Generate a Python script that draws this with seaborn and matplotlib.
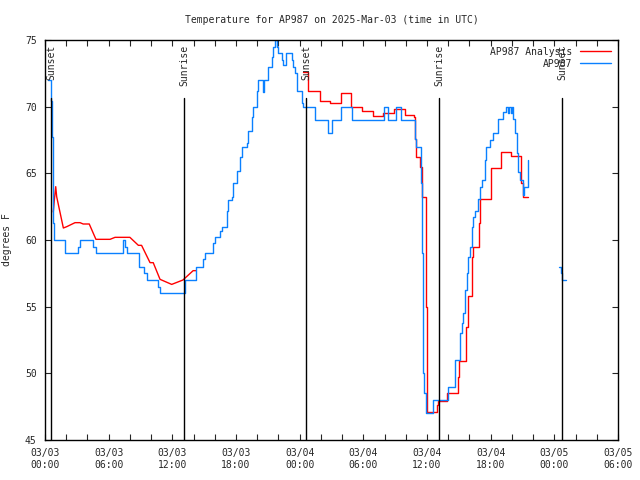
import numpy as np
import pandas as pd
import matplotlib
matplotlib.use("Agg")
import matplotlib.pyplot as plt
import matplotlib.dates as mdates
import seaborn as sns

# hours after 2025-03-03 00:00 UTC
blue_hours = [0.31, 0.54, 0.63, 0.78, 0.85, 1.89, 3.1, 3.3, 4.55, 4.8, 7.35, 7.54, 7.73,
              8.86, 9.33, 9.6, 10.65, 10.84, 13.2, 14.23, 14.9, 15.1, 15.83, 16.0, 16.5,
              16.7, 17.15, 17.25, 17.6, 17.7, 18.1, 18.4, 18.6, 19.04, 19.13, 19.5, 19.6,
              20.0, 20.1, 20.5, 20.6, 21.0, 21.4, 21.5, 21.7, 21.9, 22.0, 22.3, 22.4, 22.7,
              23.3, 23.4, 23.6, 23.75, 24.2, 24.3, 25.45, 26.7, 27.05, 27.9, 28.9, 31.95,
              32.3, 33.1, 33.55, 34.9, 35.0, 35.4, 35.45, 35.5, 35.6, 35.7, 35.9, 36.6,
              38.0, 38.6, 39.1, 39.3, 39.4, 39.6, 39.75, 39.9, 40.05, 40.2, 40.3, 40.5,
              40.8, 41.0, 41.2, 41.5, 41.6, 41.9, 42.2, 42.7, 43.2, 43.45, 43.6, 43.7,
              43.9, 44.0, 44.1, 44.3, 44.45, 44.6, 44.8, 45.0, 45.15, 45.4, 45.5, 45.55]
blue_temps = [72, 70.4, 67.7, 61.3, 60, 59, 59.5, 60, 59.5, 59, 60, 59.5, 59,
              58, 57.5, 57, 56.5, 56, 57, 58, 58.6, 59, 59.8, 60.2, 60.7,
              61, 62.2, 63, 63.2, 64.3, 65.2, 66.2, 67, 67.3, 68.2, 69.2, 70,
              71.2, 72, 71.1, 72, 73, 73.7, 74.5, 75, 74.5, 74, 73.5, 73.1, 74,
              73.5, 73, 72.5, 71.2, 70.3, 70, 69, 68, 69, 70, 69, 70,
              69, 70, 69, 67.6, 67, 65.5, 64.3, 59, 50, 48.5, 47, 48,
              49, 51, 53, 53.8, 54.5, 56.25, 57.5, 58.7, 59.5, 61, 61.7, 62.2,
              63.1, 64, 64.5, 66, 67, 67.5, 68, 69.1, 69.6, 70, 69.5, 70,
              69.5, 70, 69.1, 68, 66.5, 65.1, 64.5, 63.4, 64, 64, 66, 66]
blue2_hours = [48.45, 48.6, 48.7, 49.1]
blue2_temps = [58, 57.5, 57, 57]

# analysis: smooth early segment, hourly steps later
red1_hours = [0.78, 0.88, 1.01, 1.1, 1.73, 2.05, 2.83, 3.3, 3.6, 4.17, 4.8, 6.13, 6.6,
              8.0, 8.8, 9.1, 9.9, 10.2, 10.84, 11.94, 13.0, 13.96, 14.23]
red1_temps = [62.1, 63.0, 64.0, 63.25, 60.9, 61.0, 61.3, 61.3, 61.2, 61.2, 60.05, 60.05, 60.2,
              60.2, 59.6, 59.6, 58.3, 58.3, 57.05, 56.67, 57.0, 57.7, 57.7]
red2_hours = [24.3, 24.8, 25.9, 26.9, 27.9, 28.8, 29.9, 30.9, 31.9, 32.9, 33.9, 34.8, 34.9,
              35.0, 35.3, 35.5, 35.9, 36.0, 36.9, 37.0, 37.9, 38.9, 39.0, 39.7, 39.9,
              40.2, 40.3, 40.9, 41.0, 42.0, 42.95, 43.9, 44.9, 45.0, 45.55]
red2_temps = [72.6, 71.2, 70.4, 70.3, 71.0, 70.0, 69.7, 69.3, 69.5, 69.85, 69.4, 69.2, 67.6,
              66.2, 65.5, 63.2, 55.0, 47.1, 47.6, 47.9, 48.5, 49.7, 50.9, 53.5, 55.8,
              58.7, 59.5, 61.25, 63.1, 65.4, 66.6, 66.3, 64.3, 63.2, 63.2]

sun_hours = [0.57, 13.13, 24.6, 37.16, 48.76]
sun_labels = ["Sunset", "Sunrise", "Sunset", "Sunrise", "Sunset"]

base = pd.Timestamp("2025-03-03 00:00")


def to_time(hours):
    return base + pd.to_timedelta(np.array(hours), unit="h")


sns.set_style("ticks")
plt.rcParams["font.family"] = ["DejaVu Sans Mono"]
plt.rcParams["font.size"] = 6.5

fig = plt.figure(figsize=(6.4, 4.8), dpi=100)
ax = fig.add_axes([45 / 640, 40 / 480, 573 / 640, 400 / 480])

red = "#ff0000"
blue = "#0a80ff"

sns.lineplot(x=to_time(red1_hours), y=red1_temps, ax=ax, color=red, lw=1,
             estimator=None, sort=False, label="AP987 Analysis")
sns.lineplot(x=to_time(red2_hours), y=red2_temps, ax=ax, color=red, lw=1,
             estimator=None, sort=False, drawstyle="steps-post")
sns.lineplot(x=to_time(blue_hours), y=blue_temps, ax=ax, color=blue, lw=1,
             estimator=None, sort=False, drawstyle="steps-post", label="AP987")
sns.lineplot(x=to_time(blue2_hours), y=blue2_temps, ax=ax, color=blue, lw=1,
             estimator=None, sort=False, drawstyle="steps-post")

for h, lab in zip(sun_hours, sun_labels):
    t = to_time([h])[0]
    ax.axvline(t, ymin=0, ymax=0.855, color="black", lw=1)
    ax.text(t, 0.9875, lab, rotation=90, ha="center", va="top", fontsize=7,
            transform=ax.get_xaxis_transform())

ax.set_xlim(base, base + pd.Timedelta(hours=54))
ax.set_ylim(45, 75)
ax.set_yticks([45, 50, 55, 60, 65, 70, 75])
ax.xaxis.set_major_locator(mdates.HourLocator(byhour=[0, 6, 12, 18]))
ax.xaxis.set_minor_locator(mdates.HourLocator(interval=2))
ax.xaxis.set_major_formatter(mdates.DateFormatter("%m/%d\n%H:%M"))
ax.tick_params(which="both", direction="in", top=True, right=True, length=4.5,
               width=0.8, labelsize=7, pad=6)
for s in ax.spines.values():
    s.set_visible(True)
    s.set_linewidth(1)
    s.set_color("black")

ax.set_xlabel("")
ax.set_ylabel("degrees F", fontsize=7, labelpad=9)
ax.set_title("Temperature for AP987 on 2025-Mar-03 (time in UTC)", fontsize=7, pad=12)
ax.legend(loc="upper right", frameon=False, markerfirst=False, fontsize=7,
          handlelength=3.2, borderaxespad=0.3, labelspacing=0.2)

fig.savefig("out.png", dpi=100)
